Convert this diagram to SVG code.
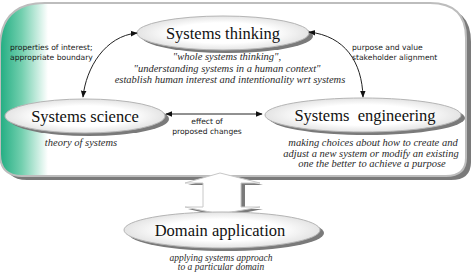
<svg xmlns="http://www.w3.org/2000/svg" width="474" height="272" viewBox="0 0 474 272">
<defs>
<linearGradient id="green" gradientUnits="userSpaceOnUse" x1="0" y1="0" x2="48" y2="0">
<stop offset="0" stop-color="#22ad82"/>
<stop offset="0.45" stop-color="#72cfae"/>
<stop offset="1" stop-color="#ffffff"/>
</linearGradient>
<radialGradient id="ell" cx="0.5" cy="0.5" r="0.5">
<stop offset="0.6" stop-color="#ffffff"/>
<stop offset="1" stop-color="#e4e4e4"/>
</radialGradient>
<marker id="ah" viewBox="0 0 10 10" refX="9" refY="5" markerWidth="7" markerHeight="7" orient="auto-start-reverse" markerUnits="userSpaceOnUse">
<path d="M0,1 L10,5 L0,9 Z" fill="#111"/>
</marker>
<style>
.shadow{fill:#7a7a7a}
.ellipse{fill:url(#ell);stroke:#b5b5b5;stroke-width:1}
.title{font-family:"Liberation Serif",serif;font-size:16.5px;fill:#111;text-anchor:middle}
.desc{font-family:"Liberation Serif",serif;font-style:italic;font-size:10.5px;fill:#2a2a2a;text-anchor:middle}
.small{font-size:9.5px}
.lbl{font-family:"DejaVu Sans",sans-serif;font-size:7.6px;fill:#1a1a1a}
.conn{fill:none;stroke:#222;stroke-width:1}
</style>
</defs>
<g id="container">
<path class="shadow" d="M 50,7 H 435 Q 471,7 471,42 V 162 Q 471,180 451,180 H 27 Q 5,180 5,158 V 52 Q 5,7 50,7 Z"/>
<path d="M 45,3 H 430 Q 466,3 466,38 V 158 Q 466,176 446,176 H 22 Q 0,176 0,154 V 48 Q 0,3 45,3 Z" fill="url(#green)" stroke="#bdbdbd" stroke-width="2"/>
</g>
<g id="double-arrow">
<polygon class="shadow" points="223,176 263,185 245,185 245,209 263,209 223,217 188,209 206,209 206,185 188,185"/>
<polygon points="220,173 260,183 241,183 241,207 260,207 220,214 185,207 203,207 203,183 185,183" fill="#ffffff" stroke="#c8c8c8" stroke-width="1"/>
</g>
<g id="systems-thinking">
<ellipse class="shadow" cx="227" cy="36" rx="86" ry="17"/>
<ellipse class="ellipse" cx="223" cy="33" rx="86" ry="17"/>
<text class="title" x="223" y="39">Systems thinking</text>
<text class="desc" x="227" y="60">"whole systems thinking",</text>
<text class="desc" x="227" y="72">"understanding systems in a human context"</text>
<text class="desc" x="230" y="83">establish human interest and intentionality wrt systems</text>
</g>
<g id="systems-science">
<ellipse class="shadow" cx="89" cy="119" rx="80" ry="17"/>
<ellipse class="ellipse" cx="85" cy="116" rx="80" ry="17"/>
<text class="title" x="85" y="122">Systems science</text>
<text class="desc" x="81" y="146">theory of systems</text>
</g>
<g id="systems-engineering">
<ellipse class="shadow" cx="367" cy="118" rx="98" ry="17"/>
<ellipse class="ellipse" cx="363" cy="115" rx="98" ry="17"/>
<text class="title" x="365" y="121" xml:space="preserve">Systems  engineering</text>
<text class="desc" x="373" y="146">making choices about how to create and</text>
<text class="desc" x="371" y="157">adjust a new system or modify an existing</text>
<text class="desc" x="372" y="167">one the better to achieve a purpose</text>
</g>
<g id="domain-application">
<ellipse class="shadow" cx="226" cy="233" rx="98" ry="18"/>
<ellipse class="ellipse" cx="222" cy="230" rx="98" ry="18"/>
<text class="title" x="220" y="236">Domain application</text>
<text class="desc small" x="221" y="261">applying systems approach</text>
<text class="desc small" x="221" y="270">to a particular domain</text>
</g>
<g id="connectors">
<path class="conn" d="M 137,33 C 105,36 86,68 83,97" marker-start="url(#ah)" marker-end="url(#ah)"/>
<path class="conn" d="M 309,32 C 345,36 362,62 363,97" marker-start="url(#ah)" marker-end="url(#ah)"/>
<path class="conn" d="M 166,114 H 262" marker-start="url(#ah)" marker-end="url(#ah)"/>
<text class="lbl" x="10" y="50">properties of interest;</text>
<text class="lbl" x="10" y="60">appropriate boundary</text>
<text class="lbl" x="352" y="50">purpose and value</text>
<text class="lbl" x="352" y="60">stakeholder alignment</text>
<text class="lbl" x="207" y="124" text-anchor="middle">effect of</text>
<text class="lbl" x="207" y="134" text-anchor="middle">proposed changes</text>
</g>
</svg>
